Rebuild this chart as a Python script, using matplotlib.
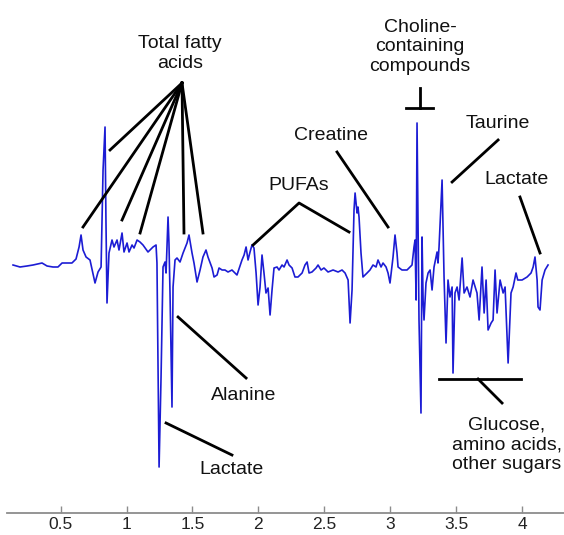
import matplotlib.pyplot as plt

plt.rcParams['font.family'] = ['Liberation Sans', 'DejaVu Sans']

# loading profile (chemical shift in ppm, loading in a.u.)
ppm = [
    0.139, 0.192, 0.245, 0.291, 0.359, 0.397, 0.442, 0.480, 0.511, 0.549,
    0.586, 0.617, 0.640, 0.655, 0.670, 0.693, 0.723, 0.761, 0.784, 0.807,
    0.822, 0.837, 0.844, 0.852, 0.867, 0.890, 0.905, 0.928, 0.943, 0.966,
    0.981, 1.004, 1.019, 1.042, 1.057, 1.080, 1.102, 1.125, 1.163, 1.201,
    1.224, 1.231, 1.247, 1.262, 1.277, 1.292, 1.300, 1.315, 1.322, 1.330,
    1.345, 1.353, 1.368, 1.383, 1.406, 1.429, 1.459, 1.474, 1.497, 1.512,
    1.535, 1.558, 1.580, 1.603, 1.618, 1.649, 1.664, 1.687, 1.702, 1.725,
    1.747, 1.770, 1.800, 1.838, 1.876, 1.892, 1.907, 1.922, 1.937, 1.952,
    1.967, 1.983, 1.998, 2.013, 2.028, 2.043, 2.058, 2.074, 2.089, 2.104,
    2.119, 2.142, 2.157, 2.180, 2.195, 2.218, 2.233, 2.256, 2.278, 2.301,
    2.332, 2.354, 2.370, 2.385, 2.407, 2.438, 2.453, 2.476, 2.498, 2.529,
    2.567, 2.605, 2.635, 2.658, 2.681, 2.696, 2.711, 2.726, 2.734, 2.749,
    2.756, 2.764, 2.779, 2.794, 2.825, 2.847, 2.870, 2.893, 2.908, 2.931,
    2.946, 2.969, 2.984, 2.999, 3.022, 3.037, 3.052, 3.060, 3.090, 3.128,
    3.166, 3.181, 3.189, 3.197, 3.204, 3.219, 3.234, 3.242, 3.250, 3.257,
    3.272, 3.288, 3.303, 3.318, 3.333, 3.348, 3.356, 3.363, 3.371, 3.394,
    3.409, 3.424, 3.439, 3.454, 3.470, 3.477, 3.492, 3.508, 3.523, 3.546,
    3.561, 3.583, 3.606, 3.629, 3.659, 3.675, 3.697, 3.713, 3.728, 3.743,
    3.766, 3.781, 3.796, 3.811, 3.834, 3.857, 3.872, 3.895, 3.917, 3.933,
    3.955, 3.968, 4.001, 4.039, 4.069, 4.085, 4.099, 4.115, 4.122, 4.137,
    4.153, 4.175, 4.198,
]
loading = [
    0.00, -0.02, -0.01, 0.00, 0.02, -0.01, -0.02, -0.02, 0.02, 0.02,
    0.02, 0.06, 0.18, 0.30, 0.15, 0.08, 0.05, -0.18, -0.07, -0.02,
    0.95, 1.38, 0.45, -0.38, 0.12, 0.25, 0.18, 0.25, 0.15, 0.32,
    0.13, 0.22, 0.13, 0.20, 0.17, 0.25, 0.23, 0.20, 0.13, 0.18,
    0.20, 0.02, -2.02, -1.12, -0.02, 0.03, -0.08, 0.48, 0.22, -0.28,
    -1.42, -0.22, 0.05, 0.07, 0.03, 0.12, 0.22, 0.30, 0.12, 0.02,
    -0.17, -0.05, 0.08, 0.15, 0.08, -0.03, -0.12, -0.10, -0.03, -0.05,
    -0.05, -0.07, -0.05, -0.10, 0.05, 0.10, 0.18, 0.05, 0.13, 0.20,
    0.17, -0.08, -0.40, -0.22, 0.10, -0.08, -0.28, -0.23, -0.50, -0.25,
    -0.03, -0.02, -0.05, 0.00, -0.02, 0.05, 0.00, -0.03, -0.12, -0.12,
    -0.08, 0.00, 0.03, -0.08, -0.07, -0.03, 0.00, -0.05, -0.03, -0.07,
    -0.05, -0.07, -0.05, -0.08, -0.15, -0.58, -0.25, 0.55, 0.72, 0.52,
    0.58, 0.48, 0.12, -0.12, -0.08, -0.05, 0.00, -0.02, 0.05, -0.02,
    0.02, -0.02, -0.08, -0.18, 0.08, 0.30, 0.12, -0.02, -0.05, -0.05,
    0.00, 0.18, 0.25, -0.35, 1.42, -0.55, -1.48, 0.28, -0.35, -0.55,
    -0.18, -0.08, -0.05, -0.25, -0.02, 0.08, 0.13, 0.02, 0.18, 0.85,
    -0.12, -0.78, -0.15, -0.32, -0.22, -1.08, -0.28, -0.22, -0.35, 0.07,
    -0.28, -0.22, -0.32, -0.15, -0.28, -0.55, -0.02, -0.48, -0.15, -0.65,
    -0.58, -0.55, -0.05, -0.48, -0.15, -0.28, -0.22, -0.98, -0.28, -0.22,
    -0.08, -0.15, -0.15, -0.12, -0.08, -0.02, 0.08, -0.15, -0.42, -0.45,
    -0.15, -0.05, 0.00,
]

tick_values = [0.5, 1, 1.5, 2, 2.5, 3, 3.5, 4]
tick_labels = ['0.5', '1', '1.5', '2', '2.5', '3', '3.5', '4']

fig = plt.figure(figsize=(5.64, 5.35), dpi=100)
ax = fig.add_axes([6.5 / 564, 22 / 535, 1 - 6.5 / 564, 513 / 535])

ax.plot(ppm, loading, color='#1c1cd4', lw=1.2)

ax.set_xlim(0.0895, 4.319)
ax.set_ylim(-2.48, 2.65)
ax.set_xticks(tick_values)
ax.set_xticklabels(tick_labels)
ax.set_yticks([])
for side in ['left', 'top', 'right']:
    ax.spines[side].set_visible(False)
ax.spines['bottom'].set_color('#8c8c8c')
ax.spines['bottom'].set_linewidth(1.3)
ax.tick_params(axis='x', direction='in', length=5, width=1, color='#8c8c8c',
               labelsize=12.5, labelcolor='#222222', pad=3)


def pointer(xs, ys):
    ax.plot(xs, ys, color='black', lw=2, clip_on=False)


def label(x, y, s):
    ax.text(x, y, s, ha='center', va='center', fontsize=14, color='#111111')


# total fatty acids fan
hub = (1.421, 1.82)
for ex, ey in [(0.670, 0.38), (0.875, 1.15), (0.966, 0.45),
               (1.103, 0.32), (1.436, 0.32), (1.580, 0.32)]:
    pointer([hub[0], ex], [hub[1], ey])
label(1.406, 2.115, 'Total fatty\nacids')

# choline T marker
pointer([3.120, 3.325], [1.57, 1.57])
pointer([3.227, 3.227], [1.57, 1.77])
label(3.227, 2.18, 'Choline-\ncontaining\ncompounds')

label(3.819, 1.42, 'Taurine')
pointer([3.819, 3.470], [1.25, 0.83])

label(3.961, 0.85, 'Lactate')
pointer([3.985, 4.137], [0.68, 0.12])

label(2.548, 1.30, 'Creatine')
pointer([2.597, 2.984], [1.13, 0.38])

label(2.305, 0.79, 'PUFAs')
pointer([1.960, 2.309, 2.688], [0.20, 0.62, 0.33])

label(1.891, -1.30, 'Alanine')
pointer([1.391, 1.907], [-0.52, -1.13])

label(1.800, -2.05, 'Lactate')
pointer([1.300, 1.800], [-1.58, -1.90])

# glucose / amino acids bracket
pointer([3.371, 3.993], [-1.14, -1.14])
pointer([3.667, 3.849], [-1.14, -1.38])
label(3.887, -1.80, 'Glucose,\namino acids,\nother sugars')

fig.savefig('out.png', dpi=100)
